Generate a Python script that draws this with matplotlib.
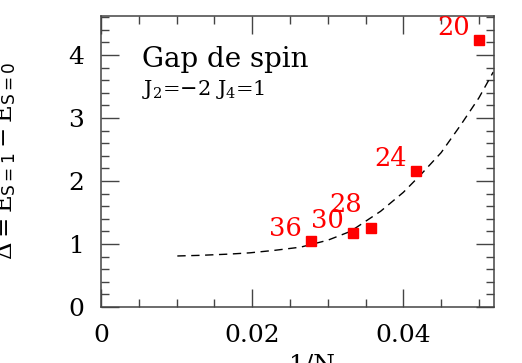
import numpy as np
import matplotlib
matplotlib.use('Agg')
import matplotlib.pyplot as plt
from matplotlib.ticker import MultipleLocator

plt.rcParams['font.family'] = 'DejaVu Serif'
plt.rcParams['mathtext.fontset'] = 'dejavuserif'

# system sizes and gap values
sizes = [20, 24, 28, 30, 36]
gaps = [4.24, 2.16, 1.25, 1.17, 1.05]
# label offsets (points) for each size tag
label_dy = [0, 0, 8, 0, 0]

# dashed fit curve
fit_x = [0.0101, 0.0131, 0.0170, 0.0197, 0.0230, 0.0264, 0.0300, 0.0330,
         0.0370, 0.0400, 0.0423, 0.0450, 0.0476, 0.0500, 0.0519]
fit_y = [0.81, 0.82, 0.84, 0.86, 0.90, 0.95, 1.06, 1.20,
         1.52, 1.82, 2.10, 2.45, 2.89, 3.32, 3.73]

inv_n = [1.0 / n for n in sizes]

fig = plt.figure(figsize=(5.22, 3.63), dpi=100)
ax = fig.add_axes([101 / 522, 1 - 307 / 363, 393 / 522, 291 / 363])

ax.plot(fit_x, fit_y, color='black', lw=1.0, ls=(0, (6, 4)))
ax.plot(inv_n, gaps, ls='none', marker='s', ms=7, color='red', mec='red')

for x, y, n, dy in zip(inv_n, gaps, sizes, label_dy):
    ax.annotate(str(n), (x, y), xytext=(-6.5, dy), textcoords='offset points',
                ha='right', va='bottom', color='red', fontsize=18.5)

ax.set_xlim(0, 0.052)
ax.set_ylim(0, 4.62)
ax.xaxis.set_major_locator(MultipleLocator(0.02))
ax.xaxis.set_minor_locator(MultipleLocator(0.005))
ax.yaxis.set_major_locator(MultipleLocator(1))
ax.yaxis.set_minor_locator(MultipleLocator(0.2))
ax.set_xticks([0, 0.02, 0.04])
ax.set_xticklabels(['0', '0.02', '0.04'])
ax.tick_params(which='both', direction='in', top=True, right=True,
               labelsize=18, color='#444444', width=1.0)
ax.tick_params(which='major', length=13, pad=12)
ax.tick_params(which='minor', length=6)
for s in ax.spines.values():
    s.set_linewidth(1.1)
    s.set_color('#444444')

fig.text(142 / 522, 1 - 67 / 363, 'Gap de spin', fontsize=20,
         va='baseline', ha='left')
fig.text(142 / 522, 1 - 95 / 363, r'J$_2$=$-$2 J$_4$=1',
         fontsize=15, va='baseline', ha='left')

fig.text(18 / 522, 1 - 161 / 363,
         r'$\Delta = \mathrm{E}_{\mathsf{S=1}} - \mathrm{E}_{\mathsf{S=0}}$',
         rotation=90, fontsize=17.5, ha='right', va='center')
fig.text(312 / 522, 1 - 354 / 363, '1/N', fontsize=18, ha='center', va='top')

fig.savefig('out.png', dpi=100)
